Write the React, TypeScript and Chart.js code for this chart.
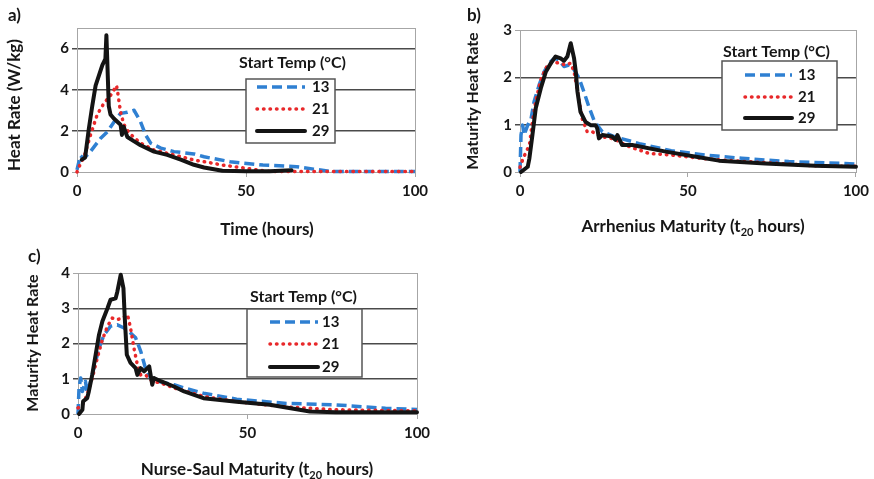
import React, { useEffect, useRef } from 'react';
import { Chart, registerables } from 'chart.js';

Chart.register(...registerables);

// ---------- data ----------
const seriesLabels = ['13', '21', '29'];
const legendTitle = 'Start Temp (°C)';
const xTicks = [0, 50, 100];
const aYTicks = [0, 2, 4, 6];
const bYTicks = [0, 1, 2, 3];
const cYTicks = [0, 1, 2, 3, 4];

// Panel a) Heat rate vs time
const a13X = [0, 1, 2, 4, 7, 9, 11, 12.9, 14.9, 16.9, 18.8, 20.3, 21.8, 24.8, 28.7, 34.6, 37.6, 45.3, 55, 65, 70, 75, 80, 90, 100];
const a13Y = [0.1, 0.8, 0.65, 1.0, 1.64, 1.96, 2.44, 2.85, 2.9, 3.0, 2.44, 1.8, 1.4, 1.16, 0.99, 0.88, 0.74, 0.5, 0.34, 0.26, 0.14, 0.03, 0.02, 0.02, 0.02];
const a21X = [0, 1, 2.1, 4, 6, 8, 10, 11.7, 12.2, 12.9, 13.9, 15.4, 18.8, 22.8, 28.7, 34.6, 37.6, 43, 50, 56, 60, 70, 80, 90, 100];
const a21Y = [0, 0.4, 0.74, 1.8, 2.8, 3.35, 3.74, 4.2, 3.7, 2.9, 2.3, 1.9, 1.4, 1.07, 0.83, 0.58, 0.5, 0.34, 0.18, 0.04, 0.02, 0.02, 0.02, 0.02, 0.02];
const a29X = [1.4, 2.4, 3.5, 4.5, 5.5, 6.5, 7.5, 8.4, 8.7, 8.9, 9.4, 9.9, 10.9, 12.9, 13.3, 13.8, 14.9, 16.8, 18.8, 22.8, 26.7, 30.7, 34.6, 37.6, 43, 50, 57, 63.5];
const a29Y = [0.6, 0.7, 2.1, 3.2, 4.2, 4.7, 5.2, 5.5, 6.65, 5.7, 3.2, 2.8, 2.6, 2.3, 1.8, 2.2, 1.7, 1.5, 1.3, 0.99, 0.83, 0.6, 0.35, 0.22, 0.06, 0.04, 0.04, 0.08];

// Panel b) Arrhenius maturity
const b13X = [0, 0.3, 0.8, 1.2, 2.3, 3.3, 4.2, 5.7, 7.2, 8.7, 10.2, 11.6, 13.1, 14.6, 16.1, 17.6, 19, 20.5, 22, 23, 24.5, 28, 35.5, 45, 55, 66, 80, 96.7, 100];
const b13Y = [0, 0.78, 0.99, 0.78, 0.99, 1.13, 1.49, 1.84, 2.12, 2.3, 2.4, 2.37, 2.23, 2.26, 2.16, 1.98, 1.7, 1.38, 1.1, 0.99, 0.85, 0.75, 0.6, 0.45, 0.36, 0.29, 0.22, 0.18, 0.17];
const b21X = [0, 1, 2.8, 3.7, 4.7, 6.2, 7.7, 9.7, 11.6, 13.6, 15.1, 16.1, 17.1, 18.5, 20, 21.5, 24, 28, 32, 38.5, 45, 55, 65, 75, 88, 100];
const b21Y = [0.1, 0.3, 0.57, 1.06, 1.5, 1.95, 2.2, 2.33, 2.3, 2.26, 2.3, 2.12, 1.7, 1.13, 0.85, 0.85, 0.75, 0.7, 0.55, 0.39, 0.36, 0.28, 0.23, 0.19, 0.13, 0.12];
const b29X = [0.3, 2.3, 2.8, 3.7, 4.7, 6.2, 7.7, 9.2, 10.6, 12.1, 13.1, 14.1, 15.1, 16.1, 16.6, 17.1, 18, 19.5, 21, 22.5, 23, 23.5, 24.5, 27.4, 28.4, 29, 30.4, 33.4, 43.4, 53.3, 59.2, 73, 87.8, 100];
const b29Y = [0, 0.11, 0.29, 0.78, 1.35, 1.77, 2.12, 2.3, 2.44, 2.4, 2.35, 2.44, 2.72, 2.4, 2.12, 1.7, 1.27, 1.06, 0.99, 0.99, 0.92, 0.71, 0.78, 0.75, 0.68, 0.78, 0.57, 0.57, 0.43, 0.31, 0.24, 0.18, 0.13, 0.11];

// Panel c) Nurse-Saul maturity
const c13X = [0, 0.3, 0.8, 1.3, 2.2, 2.7, 3.7, 4.7, 6.2, 7.7, 9.6, 11.6, 13.6, 15.5, 17, 18.5, 19.9, 21.4, 23.4, 28.3, 31.3, 37, 46.8, 61.5, 76, 90.7, 100];
const c13Y = [0, 0.74, 1.02, 0.64, 0.93, 0.6, 0.93, 1.3, 1.87, 2.25, 2.49, 2.53, 2.44, 2.3, 2.16, 1.78, 1.3, 1.02, 0.93, 0.83, 0.74, 0.59, 0.42, 0.3, 0.26, 0.16, 0.13];
const c21X = [0, 1.3, 2.7, 4.2, 5.7, 7.2, 8.7, 10.1, 11.6, 13.1, 14.6, 15.5, 16.5, 17.5, 18.5, 19.9, 21.9, 24.4, 28.3, 37, 46.8, 61.5, 76, 90.7, 100];
const c21Y = [0.17, 0.26, 0.55, 1.02, 1.59, 2.11, 2.49, 2.72, 2.68, 2.72, 2.82, 2.44, 1.87, 1.4, 1.11, 1.11, 0.93, 0.88, 0.74, 0.5, 0.35, 0.2, 0.12, 0.1, 0.09];
const c29X = [0.3, 1.3, 1.5, 2.7, 3.2, 4.2, 5.2, 6.2, 7.2, 8.7, 9.6, 11.1, 11.6, 12.6, 13.4, 13.8, 14.4, 15.5, 17, 17.5, 18.5, 19.5, 21, 21.9, 22.4, 24.4, 28.3, 31.3, 37, 46.8, 56.6, 68.4, 76, 100];
const c29Y = [0, 0.12, 0.36, 0.45, 0.64, 1.11, 1.68, 2.25, 2.63, 3.0, 3.24, 3.28, 3.47, 3.95, 3.57, 2.72, 1.68, 1.45, 1.3, 1.11, 1.3, 1.21, 1.35, 0.83, 1.02, 0.93, 0.78, 0.64, 0.45, 0.35, 0.26, 0.07, 0.05, 0.05];

// ---------- styles ----------
const FONT = 'Lato, "Open Sans", sans-serif';
const BLUE = '#2f80d2';
const RED = '#e8282a';
const BLACK = '#141414';
const FRAME = '#a6a6a6';
const GRID = '#4a4a4a';
const TEXT = '#161616';

type Seg = { t: string; sub?: boolean };
type PanelDef = {
  left: number; top: number; w: number; h: number;
  area: { l: number; r: number; t: number; b: number };
  yMax: number; yTicks: number[];
  series: [number[], number[]][];
  label: string; labelPos: [number, number];
  yTitle: string; yTitlePos: [number, number]; yTitleSize: number;
  xTitle: Seg[]; xTitlePos: [number, number];
  legend: { titleX: number; titleY: number; box: [number, number, number, number]; rows: number[]; sx0: number; sx1: number; lx: number };
};

const pts = (xs: number[], ys: number[]) => xs.map((x, i) => ({ x, y: ys[i] }));

function Panel({ def }: { def: PanelDef }) {
  const ref = useRef<HTMLCanvasElement>(null);
  useEffect(() => {
    const cv = ref.current!;
    const d = def;
    const styles = [
      { color: BLUE, dash: [10, 5], cap: 'butt', width: 3.5 },
      { color: RED, dash: [0.5, 6], cap: 'round', width: 3.5 },
      { color: BLACK, dash: [], cap: 'round', width: 4 },
    ];
    const font = (size: number) => `bold ${size}px ${FONT}`;
    const textPlugin = {
      id: 'panelText',
      beforeDatasetsDraw(chart: any) {
        const { ctx, chartArea: ca } = chart;
        ctx.save();
        ctx.strokeStyle = FRAME;
        ctx.lineWidth = 1;
        ctx.strokeRect(Math.round(ca.left) + 0.5, Math.round(ca.top) + 0.5, Math.round(ca.right - ca.left), Math.round(ca.bottom - ca.top));
        ctx.restore();
      },
      afterDatasetsDraw(chart: any) {
        const ctx = chart.ctx as CanvasRenderingContext2D;
        const L = d.legend;
        ctx.save();
        ctx.fillStyle = '#ffffff';
        const [bx0, by0, bx1, by1] = L.box;
        ctx.fillRect(bx0, by0, bx1 - bx0, by1 - by0);
        ctx.strokeStyle = '#555555';
        ctx.lineWidth = 1.5;
        ctx.strokeRect(bx0, by0, bx1 - bx0, by1 - by0);
        ctx.font = font(16);
        ctx.fillStyle = TEXT;
        ctx.textBaseline = 'middle';
        ctx.textAlign = 'left';
        ctx.fillText(legendTitle, L.titleX, L.titleY);
        ctx.font = font(15);
        L.rows.forEach((ry, i) => {
          const s = styles[i];
          ctx.beginPath();
          ctx.strokeStyle = s.color;
          ctx.lineWidth = s.width;
          ctx.setLineDash(s.dash);
          ctx.lineCap = s.cap as CanvasLineCap;
          ctx.moveTo(L.sx0, ry);
          ctx.lineTo(L.sx1, ry);
          ctx.stroke();
          ctx.setLineDash([]);
          ctx.fillStyle = TEXT;
          ctx.fillText(seriesLabels[i], L.lx, ry);
        });
        ctx.restore();
      },
      afterDraw(chart: any) {
        const ctx = chart.ctx as CanvasRenderingContext2D;
        ctx.save();
        ctx.fillStyle = TEXT;
        ctx.textBaseline = 'middle';
        ctx.font = font(17);
        ctx.textAlign = 'left';
        ctx.fillText(d.label, d.labelPos[0], d.labelPos[1]);
        // y title
        ctx.save();
        ctx.translate(d.yTitlePos[0], d.yTitlePos[1]);
        ctx.rotate(-Math.PI / 2);
        ctx.textAlign = 'center';
        ctx.font = font(d.yTitleSize);
        ctx.fillText(d.yTitle, 0, 0);
        ctx.restore();
        // x title with subscript
        const widths = d.xTitle.map((s) => {
          ctx.font = font(s.sub ? 11 : 17);
          return ctx.measureText(s.t).width;
        });
        const total = widths.reduce((a, b) => a + b, 0);
        let x = d.xTitlePos[0] - total / 2;
        ctx.textAlign = 'left';
        d.xTitle.forEach((s, i) => {
          ctx.font = font(s.sub ? 11 : 17);
          ctx.fillText(s.t, x, d.xTitlePos[1] + (s.sub ? 5 : 0));
          x += widths[i];
        });
        ctx.restore();
      },
    };

    const datasets = d.series.map(([xs, ys], i) => ({
      label: seriesLabels[i],
      data: pts(xs, ys),
      borderColor: styles[i].color,
      borderWidth: styles[i].width,
      borderDash: styles[i].dash,
      borderCapStyle: styles[i].cap,
      borderJoinStyle: 'round',
      pointRadius: 0,
      tension: 0,
      fill: false,
      clip: false,
      order: 2 - i,
    }));

    const tickFont = { family: FONT, size: 15, weight: 'bold' as const };
    const chart = new Chart(cv, {
      type: 'line',
      data: { datasets: datasets as any },
      options: {
        animation: false,
        responsive: false,
        maintainAspectRatio: false,
        events: [],
        layout: { padding: { left: 0, top: d.area.t, right: d.w - d.area.r, bottom: 0 } },
        plugins: { legend: { display: false }, tooltip: { enabled: false }, title: { display: false } },
        scales: {
          x: {
            type: 'linear',
            min: 0,
            max: 100,
            afterBuildTicks: (s: any) => { s.ticks = xTicks.map((v) => ({ value: v })); },
            afterFit: (s: any) => { s.height = d.h - d.area.b; },
            grid: { drawOnChartArea: false, drawTicks: true, tickLength: 5, color: FRAME, lineWidth: 1 },
            border: { display: true, color: FRAME, width: 1 },
            ticks: { font: tickFont, color: TEXT, padding: 5, maxRotation: 0, autoSkip: false },
          },
          y: {
            type: 'linear',
            min: 0,
            max: d.yMax,
            afterBuildTicks: (s: any) => { s.ticks = d.yTicks.map((v) => ({ value: v })); },
            afterFit: (s: any) => { s.width = d.area.l; },
            grid: {
              drawTicks: true,
              tickLength: 5,
              color: (c: any) => {
                const v = c.tick ? c.tick.value : 0;
                return v === 0 || v === d.yMax ? FRAME : GRID;
              },
              lineWidth: (c: any) => {
                const v = c.tick ? c.tick.value : 0;
                return v === 0 || v === d.yMax ? 1 : 1.5;
              },
            },
            border: { display: true, color: FRAME, width: 1 },
            ticks: { font: tickFont, color: TEXT, padding: 3, autoSkip: false },
          },
        },
      } as any,
      plugins: [textPlugin],
    });
    return () => chart.destroy();
  }, [def]);
  return (
    <canvas
      ref={ref}
      width={def.w}
      height={def.h}
      style={{ position: 'absolute', left: def.left, top: def.top, width: def.w, height: def.h, display: 'block' }}
    />
  );
}

const panels: PanelDef[] = [
  {
    left: 0, top: 0, w: 440, h: 240,
    area: { l: 77, r: 415, t: 28, b: 172 },
    yMax: 7, yTicks: aYTicks,
    series: [[a13X, a13Y], [a21X, a21Y], [a29X, a29Y]],
    label: 'a)', labelPos: [8, 16],
    yTitle: 'Heat Rate (W/kg)', yTitlePos: [15, 105], yTitleSize: 17,
    xTitle: [{ t: 'Time (hours)' }], xTitlePos: [267, 230],
    legend: { titleX: 239, titleY: 63, box: [246, 79, 335, 143], rows: [87, 109, 131], sx0: 257, sx1: 305, lx: 312 },
  },
  {
    left: 440, top: 0, w: 434, h: 240,
    area: { l: 80, r: 418, t: 30, b: 172 },
    yMax: 3, yTicks: bYTicks,
    series: [[b13X, b13Y], [b21X, b21Y], [b29X, b29Y]],
    label: 'b)', labelPos: [27, 16],
    yTitle: 'Maturity Heat Rate', yTitlePos: [33, 101], yTitleSize: 16,
    xTitle: [{ t: 'Arrhenius Maturity (t' }, { t: '20', sub: true }, { t: ' hours)' }], xTitlePos: [253, 227],
    legend: { titleX: 283, titleY: 52, box: [282, 61, 397, 130], rows: [75, 97, 118], sx0: 305, sx1: 352, lx: 358 },
  },
  {
    left: 0, top: 240, w: 440, h: 239,
    area: { l: 78, r: 417, t: 33, b: 174 },
    yMax: 4, yTicks: cYTicks,
    series: [[c13X, c13Y], [c21X, c21Y], [c29X, c29Y]],
    label: 'c)', labelPos: [28, 17],
    yTitle: 'Maturity Heat Rate', yTitlePos: [33, 103], yTitleSize: 16,
    xTitle: [{ t: 'Nurse-Saul Maturity (t' }, { t: '20', sub: true }, { t: ' hours)' }], xTitlePos: [257, 230],
    legend: { titleX: 250, titleY: 57, box: [247, 69, 362, 137], rows: [82, 104, 127], sx0: 270, sx1: 318, lx: 322 },
  },
];

export default function App() {
  return (
    <div style={{ position: 'absolute', left: 0, top: 0, width: 874, height: 479, background: '#ffffff', overflow: 'hidden' }}>
      {panels.map((p, i) => (
        <Panel key={i} def={p} />
      ))}
    </div>
  );
}
